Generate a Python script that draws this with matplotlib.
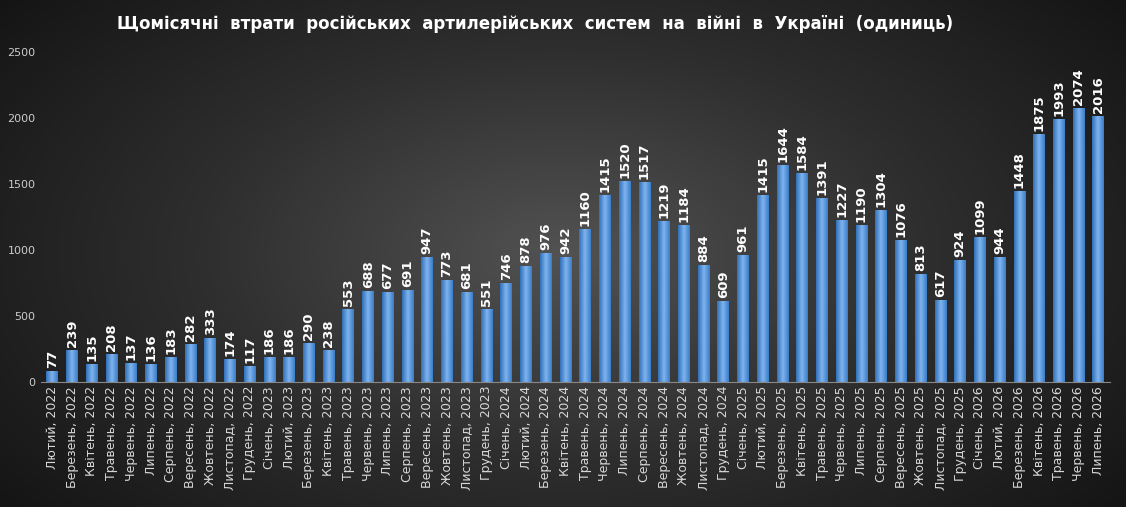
import numpy as np
import matplotlib
matplotlib.use("Agg")
import matplotlib.pyplot as plt

months = ["Лютий", "Березень", "Квітень", "Травень", "Червень", "Липень", "Серпень",
          "Вересень", "Жовтень", "Листопад", "Грудень", "Січень"]
labels = ([f"{m}, 2022" for m in months[:11]] +
          [f"{m}, 2023" for m in months[11:] + months[:11]] +
          [f"{m}, 2024" for m in months[11:] + months[:11]] +
          [f"{m}, 2025" for m in months[11:] + months[:11]] +
          [f"{m}, 2026" for m in (months[11:] + months[:6])])
values = [77, 239, 135, 208, 137, 136, 183, 282, 333, 174, 117,
          186, 186, 290, 238, 553, 688, 677, 691, 947, 773, 681, 551,
          746, 878, 976, 942, 1160, 1415, 1520, 1517, 1219, 1184, 884, 609,
          961, 1415, 1644, 1584, 1391, 1227, 1190, 1304, 1076, 813, 617, 924,
          1099, 944, 1448, 1875, 1993, 2074, 2016]

fig = plt.figure(figsize=(11.26, 5.07), dpi=100)

# dark radial background
bg = fig.add_axes([0, 0, 1, 1])
yy, xx = np.mgrid[-1:1:300j, -1:1:600j]
r = np.sqrt(xx**2 + (yy * 0.8)**2)
bgmap = matplotlib.colors.LinearSegmentedColormap.from_list("g", ["#525252", "#2e2e2e", "#141414"])
bg.imshow(np.clip(r, 0, 1.3), cmap=bgmap, vmin=0, vmax=1.3, aspect="auto",
          extent=[0, 1, 0, 1])
bg.axis("off")

ax = fig.add_axes([0.036, 0.247, 0.95, 0.65])
ax.patch.set_alpha(0)
x = np.arange(len(values))

# gradient bars
grad = np.linspace(0, 1, 100).reshape(1, -1)
cmap = matplotlib.colors.LinearSegmentedColormap.from_list("b", ["#2f6fb8", "#7fb4ee", "#3a7cc8"])
for xi, v in zip(x, values):
    ax.imshow(grad, cmap=cmap, aspect="auto", extent=[xi - 0.3, xi + 0.3, 0, v], zorder=2)
    ax.text(xi, v + 25, str(v), rotation=90, ha="center", va="bottom",
            color="white", fontsize=9.5, fontweight="bold")
ax.set_xlim(-0.6, len(values) - 0.4)
ax.set_ylim(0, 2500)

ax.set_xticks(x)
ax.set_xticklabels(labels, rotation=90, fontsize=9, color="#d8d8d8")
ax.set_yticks(range(0, 2501, 500))
ax.tick_params(axis="y", colors="#cccccc", labelsize=8, length=0)
ax.tick_params(axis="x", length=0, pad=3)
for s in ["top", "right", "left"]:
    ax.spines[s].set_visible(False)
ax.spines["bottom"].set_color("#888888")

fig.text(0.475, 0.953, "Щомісячні  втрати  російських  артилерійських  систем  на  війні  в  Україні  (одиниць)",
         ha="center", va="center", color="white", fontsize=12, fontweight="bold")

fig.savefig("out.png", dpi=100)
